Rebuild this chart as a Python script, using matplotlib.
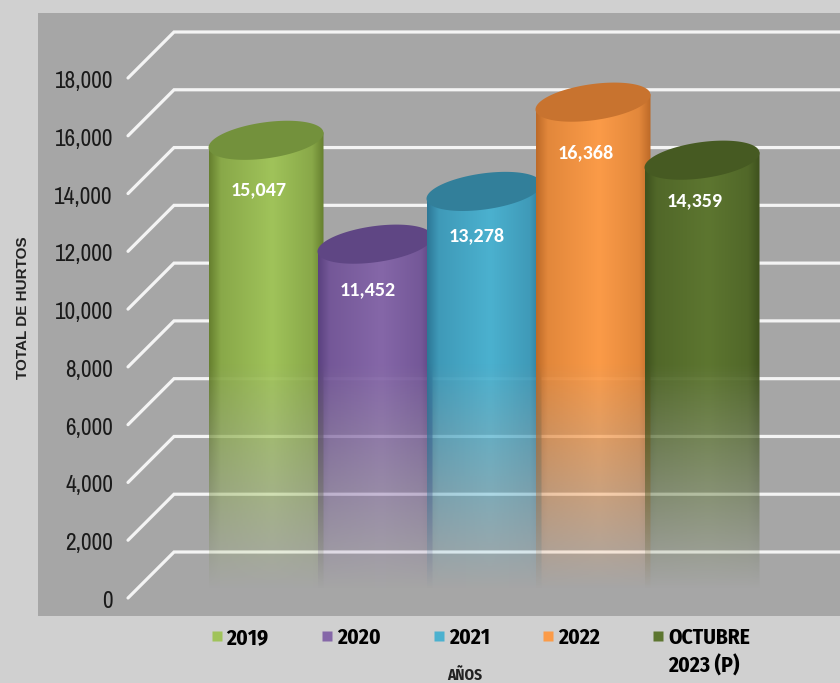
import numpy as np
import matplotlib
matplotlib.use("Agg")
import matplotlib.pyplot as plt
from matplotlib.lines import Line2D
from matplotlib.patches import Polygon

categories = ["2019", "2020", "2021", "2022", "OCTUBRE"]
last_line = "2023 (P)"
values = [15047, 11452, 13278, 16368, 14359]
bright = ["#a0c35a", "#8567a8", "#4bb1cf", "#fb9b48", "#5d7630"]
edge = ["#66802f", "#5b4180", "#2d7796", "#bd6a28", "#3f521e"]
top = ["#73913c", "#5f4684", "#327f9a", "#c8732f", "#465a22"]
yticks = list(range(0, 18001, 2000))
label_dy = [-35.5, -33, -32, -36.5, -29]

narrow = ["Archivo Narrow", "Liberation Sans"]
narrow_bold = ["Fira Sans Condensed", "Liberation Sans"]
label_font = ["Carlito", "Liberation Sans"]
W, H = 840, 683
px_x = 109.0            # px per category
px_val = 520.0 / 18000  # px per hurto
depth = 46 / px_val     # floor depth, in value units

fig = plt.figure(figsize=(8.4, 6.83), dpi=100, facecolor="#d0d0d0")
ax = fig.add_axes([38 / W, (H - 616) / H, (W - 38) / W, (616 - 13) / H])
ax.set_facecolor("#a6a6a6")
xlim = (-(266 - 38) / px_x, (W - 266) / px_x)
ylim = (-(616 - 552) / px_val, (552 - 13) / px_val)

# back wall grid and the slanted floor lines
x_back = -(266 - 174) / px_x
x_front = -(266 - 128) / px_x
for v in yticks:
    ax.plot([x_front, x_back, xlim[1]], [v - depth, v, v], color="#f4f4f4", lw=2.3,
            solid_joinstyle="miter", solid_capstyle="round", zorder=1)


def rgb(c):
    return np.array(matplotlib.colors.to_rgb(c))


half = 57.5 / px_x
base = -1400
fade_hi, fade_lo = (552 - 365) / px_val, (552 - 590) / px_val
for i, v in enumerate(values):
    yc = v - depth / 2
    ny, nx = 400, 120
    u = np.linspace(0, 1, nx)
    ys = np.linspace(yc + 400, base, ny)
    shade = np.interp(u, [0, 0.1, 0.55, 0.9, 1], [0, 0.6, 1, 0.6, 0])[:, None]
    col = rgb(edge[i]) * (1 - shade) + rgb(bright[i]) * shade
    img = np.zeros((ny, nx, 4))
    img[:, :, :3] = col[None, :, :]
    img[:, :, 3] = np.interp(ys, [fade_lo, fade_hi], [0, 1])[:, None]
    im = ax.imshow(img, extent=(i - half, i + half, base, yc + 400), aspect="auto",
                   zorder=2 + i * 0.1, interpolation="bilinear")
    tilt = 8 / px_val
    clip = Polygon([(i - half, base), (i + half, base), (i + half, yc + tilt), (i - half, yc - tilt)],
                   transform=ax.transData)
    im.set_clip_path(clip)

    # tilted top ellipse
    t = np.linspace(0, 2 * np.pi, 120)
    th = np.deg2rad(8)
    dx = 58 * np.cos(t) * np.cos(th) - 18 * np.sin(t) * np.sin(th)
    dy = 58 * np.cos(t) * np.sin(th) + 18 * np.sin(t) * np.cos(th)
    ax.add_patch(Polygon(np.c_[i + dx / px_x, yc + dy / px_val], closed=True, fc=top[i], ec="none",
                         zorder=2.05 + i * 0.1))

for i, v in enumerate(values):
    ax.annotate(f"{v:,}", (i, v - depth / 2), xytext=(-5.5, label_dy[i]), textcoords="offset points",
                ha="center", va="center", color="white", fontsize=14.5, fontweight="bold",
                family=label_font, zorder=5)

ax.set_xlim(xlim)
ax.set_ylim(ylim)
ax.set_xticks([])
ax.set_yticks([])
for s in ax.spines.values():
    s.set_visible(False)

# value labels sit on the front edge of the floor
front = ax.twinx()
shift = depth + 1.5 / px_val
front.set_ylim(ylim[0] + shift, ylim[1] + shift)
front.yaxis.tick_left()
front.set_yticks(yticks)
front.set_yticklabels([f"{v:,}" for v in yticks], family=narrow, fontsize=16.8, color="#1a1a1a")
front.tick_params(axis="y", length=0, pad=-54)
for s in front.spines.values():
    s.set_visible(False)

handles = [Line2D([], [], ls="none", marker="s", ms=6.5, mfc=c, mec="none") for c in bright]
leg = fig.legend(handles, categories, ncol=5, loc="upper left", bbox_to_anchor=(207 / W, 1 - 627 / H),
                 frameon=False, prop={"family": narrow_bold, "weight": "bold", "size": 15.5},
                 handletextpad=0.0, handlelength=0.9, columnspacing=2.27, labelspacing=0,
                 borderpad=0, borderaxespad=0)
fig.text(668 / W, 1 - 666 / H, last_line, ha="left", va="center", family=narrow_bold,
         fontweight="bold", fontsize=15.5, color="black")

fig.text(23 / W, 1 - 308 / H, "TOTAL DE HURTOS", rotation=90, ha="center", va="center",
         family="Liberation Sans", fontweight="bold", fontsize=11, color="#222222")
fig.text(465 / W, 1 - 675 / H, "AÑOS", ha="center", va="center", family=narrow_bold,
         fontweight="bold", fontsize=11, color="#222222")

fig.savefig("out.png", dpi=100, facecolor=fig.get_facecolor())
